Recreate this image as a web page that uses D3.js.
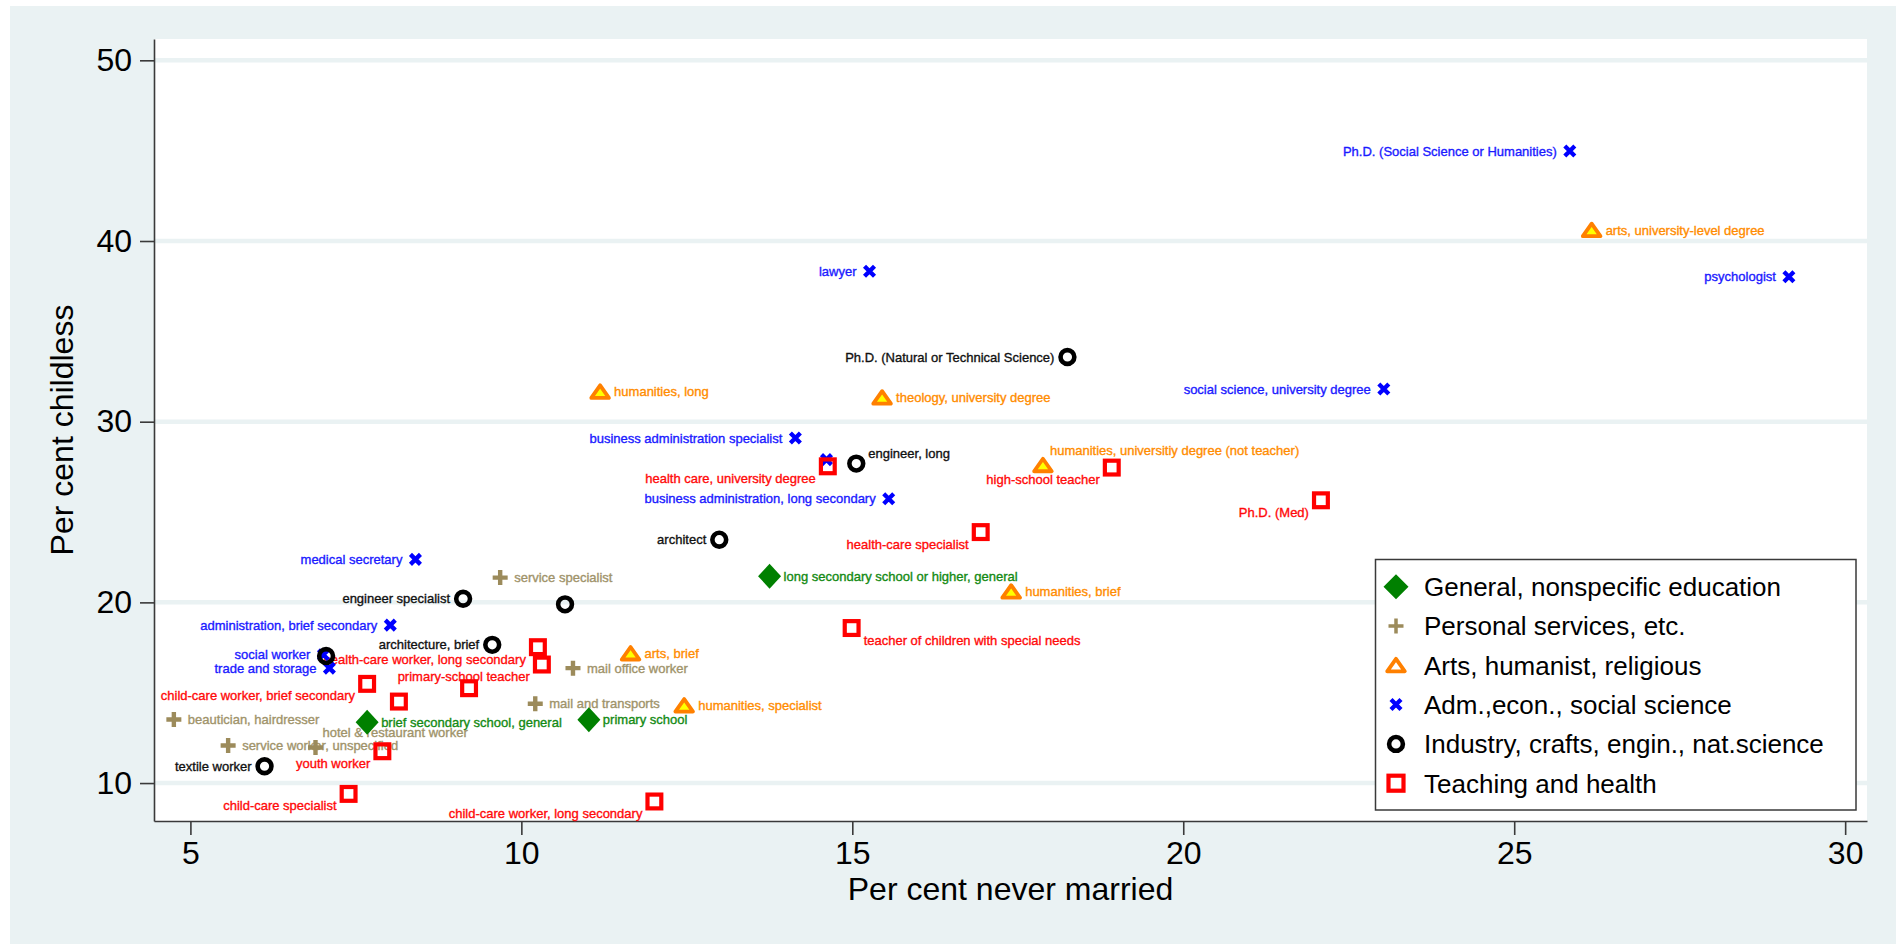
<!DOCTYPE html>
<html>
<head>
<meta charset="utf-8">
<script src="https://cdn.jsdelivr.net/npm/d3@7"></script>
<style>
  html, body { margin: 0; padding: 0; background: #ffffff; }
  svg { display: block; font-family: "Liberation Sans", Arial, sans-serif; }
</style>
</head>
<body>
<svg id="chart" width="1896" height="944"></svg>
<script>
// Occupational groups: [label, % never married, % childless, label position (clock)]
const generalEd = [
  ["long secondary school or higher, general", 13.75, 21.45, 3],
  ["brief secondary school, general", 7.67, 13.37, 3],
  ["primary school", 11.02, 13.50, 3]
];
const personalServices = [
  ["service specialist", 9.68, 21.37, 3],
  ["mail office worker", 10.78, 16.36, 3],
  ["mail and transports", 10.21, 14.39, 3],
  ["beautician, hairdresser", 4.75, 13.52, 3],
  ["hotel & restaurant worker", 6.89, 11.97, 1],
  ["service worker, unspecified", 5.57, 12.08, 3]
];
const artsHumanist = [
  ["humanities, long", 11.19, 31.65, 3],
  ["theology, university degree", 15.45, 31.33, 3],
  ["arts, university-level degree", 26.17, 40.60, 3],
  ["humanities, universitiy degree (not teacher)", 17.88, 27.59, 1],
  ["humanities, brief", 17.40, 20.59, 3],
  ["arts, brief", 11.65, 17.17, 3],
  ["humanities, specialist", 12.46, 14.29, 3]
];
const admEcon = [
  ["Ph.D. (Social Science or Humanities)", 25.84, 44.98, 9],
  ["psychologist", 29.15, 38.02, 9],
  ["lawyer", 15.26, 38.33, 9],
  ["social science, university degree", 23.03, 31.81, 9],
  ["business administration specialist", 14.14, 29.10, 9],
  ["", 14.61, 27.90, 9],
  ["business administration, long secondary", 15.55, 25.74, 9],
  ["medical secretary", 8.40, 22.38, 9],
  ["administration, brief secondary", 8.02, 18.74, 9],
  ["social worker", 7.01, 17.10, 9],
  ["trade and storage", 7.10, 16.36, 9]
];
const industry = [
  ["Ph.D. (Natural or Technical Science)", 18.25, 33.58, 9],
  ["engineer, long", 15.06, 27.68, 2],
  ["architect", 12.99, 23.47, 9],
  ["engineer specialist", 9.12, 20.20, 9],
  ["", 10.66, 19.89, 9],
  ["architecture, brief", 9.56, 17.65, 9],
  ["", 7.05, 17.03, 9],
  ["textile worker", 6.12, 10.93, 9]
];
const teachingHealth = [
  ["health care, university degree", 14.63, 27.53, 8],
  ["high-school teacher", 18.92, 27.46, 8],
  ["Ph.D. (Med)", 22.08, 25.65, 8],
  ["health-care specialist", 16.94, 23.89, 8],
  ["teacher of children with special needs", 14.99, 18.58, 4],
  ["health-care worker, long secondary", 10.25, 17.52, 8],
  ["primary-school teacher", 10.31, 16.56, 8],
  ["", 9.21, 15.25, 8],
  ["child-care worker, brief secondary", 7.67, 15.49, 8],
  ["", 8.15, 14.51, 8],
  ["youth worker", 7.90, 11.76, 8],
  ["child-care specialist", 7.39, 9.40, 8],
  ["child-care worker, long secondary", 12.01, 8.98, 8]
];

const groupNames = [
  "General, nonspecific education",
  "Personal services, etc.",
  "Arts, humanist, religious",
  "Adm.,econ., social science",
  "Industry, crafts, engin., nat.science",
  "Teaching and health"
];
const xTicks = [5, 10, 15, 20, 25, 30];
const yTicks = [10, 20, 30, 40, 50];
const xTitle = "Per cent never married";
const yTitle = "Per cent childless";

// Marker / label style per group
const groups = [
  { data: generalEd,        name: groupNames[0], shape: "diamond",  color: "#008000", text: "#138a13" },
  { data: personalServices, name: groupNames[1], shape: "plus",     color: "#9c8b5b", text: "#a0936a" },
  { data: artsHumanist,     name: groupNames[2], shape: "triangle", color: "#ff8000", text: "#ff8c00" },
  { data: admEcon,          name: groupNames[3], shape: "x",        color: "#0000ff", text: "#1a1aff" },
  { data: industry,         name: groupNames[4], shape: "circle",   color: "#000000", text: "#111111" },
  { data: teachingHealth,   name: groupNames[5], shape: "square",   color: "#ff0000", text: "#ff0a0a" }
];

const svg = d3.select("#chart");
const W = 1896, H = 944;
const plot = { left: 154, right: 1867, top: 39, bottom: 821 };
const bg = "#eaf2f3";

// Outer graph region
svg.append("rect").attr("x", 10).attr("y", 6).attr("width", W - 10).attr("height", H - 6).attr("fill", bg);
// Plot region
svg.append("rect").attr("x", plot.left).attr("y", plot.top)
  .attr("width", plot.right - plot.left).attr("height", plot.bottom - plot.top).attr("fill", "#ffffff");

const x = d3.scaleLinear().domain([4.45, 30.33]).range([plot.left, plot.right]);
const y = d3.scaleLinear().domain([7.9, 51.18]).range([plot.bottom, plot.top]);

// Horizontal grid lines
svg.append("g").selectAll("line").data(yTicks).join("line")
  .attr("x1", plot.left).attr("x2", plot.right)
  .attr("y1", d => y(d)).attr("y2", d => y(d))
  .attr("stroke", bg).attr("stroke-width", 4.5);

// Axes
const axisColor = "#3a3a3a";
const gy = svg.append("g").attr("transform", `translate(${plot.left},0)`)
  .call(d3.axisLeft(y).tickValues(yTicks).tickSize(14).tickSizeOuter(0).tickPadding(8));
const gx = svg.append("g").attr("transform", `translate(0,${plot.bottom})`)
  .call(d3.axisBottom(x).tickValues(xTicks).tickSize(14).tickSizeOuter(0).tickPadding(6));
[gx, gy].forEach(g => {
  g.select(".domain").attr("stroke", axisColor).attr("stroke-width", 1.6);
  g.selectAll(".tick line").attr("stroke", axisColor).attr("stroke-width", 1.6);
  g.selectAll(".tick text").attr("fill", "#000").style("font-size", "32px")
    .style("font-family", '"Liberation Sans", Arial, sans-serif');
});

// Axis titles
svg.append("text").attr("x", (plot.left + plot.right) / 2).attr("y", 900)
  .attr("text-anchor", "middle").style("font-size", "32px").attr("fill", "#000").text(xTitle);
svg.append("text").attr("transform", `translate(73,${(plot.top + plot.bottom) / 2}) rotate(-90)`)
  .attr("text-anchor", "middle").style("font-size", "32px").attr("fill", "#000").text(yTitle);

// Marker shapes
function drawMarker(sel, shape, color, legend) {
  if (shape === "diamond") {
    const a = legend ? 12.5 : 11.5, b = 12.5;
    sel.append("path").attr("d", `M0,${-b}L${a},0L0,${b}L${-a},0Z`).attr("fill", color);
  } else if (shape === "plus") {
    const s = 7.5;
    sel.append("path").attr("d", `M${-s},0H${s}M0,${-s}V${s}`)
      .attr("stroke", color).attr("stroke-width", legend ? 3.5 : 4.4).attr("fill", "none");
  } else if (shape === "triangle") {
    sel.append("path").attr("d", "M0,-6.5L8.8,6L-8.8,6Z")
      .attr("fill", legend ? "#ffffff" : "#ffff00").attr("stroke", color)
      .attr("stroke-width", 3.8).attr("stroke-linejoin", "round");
  } else if (shape === "x") {
    const s = legend ? 5 : 5;
    sel.append("path").attr("d", `M${-s},${-s}L${s},${s}M${-s},${s}L${s},${-s}`)
      .attr("stroke", color).attr("stroke-width", 4.3).attr("fill", "none");
  } else if (shape === "circle") {
    sel.append("circle").attr("r", 6.9).attr("fill", "none")
      .attr("stroke", color).attr("stroke-width", 4.6);
  } else if (shape === "square") {
    const s = legend ? 7.5 : 6.9;
    sel.append("rect").attr("x", -s).attr("y", -s).attr("width", 2 * s).attr("height", 2 * s)
      .attr("fill", "none").attr("stroke", color).attr("stroke-width", 4.2);
  }
}

// Label offsets by clock position
const labelPos = {
  3: { dx: 14, dy: 0, anchor: "start" },
  9: { dx: -13, dy: 0, anchor: "end" },
  8: { dx: -12, dy: 12, anchor: "end" },
  4: { dx: 12, dy: 12, anchor: "start" },
  1: { dx: 7, dy: -15, anchor: "start" },
  2: { dx: 12, dy: -10, anchor: "start" }
};

// Labels first, markers on top
const labelLayer = svg.append("g");
const markerLayer = svg.append("g");

groups.forEach(g => {
  labelLayer.append("g").selectAll("text").data(g.data.filter(d => d[0] !== "")).join("text")
    .attr("x", d => x(d[1]) + labelPos[d[3]].dx)
    .attr("y", d => y(d[2]) + labelPos[d[3]].dy)
    .attr("dy", "0.35em")
    .attr("text-anchor", d => labelPos[d[3]].anchor)
    .style("font-size", "13px")
    .attr("fill", g.text)
    .attr("stroke", g.text)
    .attr("stroke-width", 0.35)
    .text(d => d[0]);
});

groups.forEach(g => {
  markerLayer.append("g").selectAll("g").data(g.data).join("g")
    .attr("transform", d => `translate(${x(d[1])},${y(d[2])})`)
    .each(function () { drawMarker(d3.select(this), g.shape, g.color, false); });
});

// Legend
const legend = svg.append("g");
legend.append("rect").attr("x", 1375.5).attr("y", 559.5).attr("width", 480.5).attr("height", 250.5)
  .attr("fill", "#ffffff").attr("stroke", "#3a3a3a").attr("stroke-width", 1.5);
groups.forEach((g, i) => {
  const cy = 586.7 + i * 39.3;
  const row = legend.append("g");
  drawMarker(row.append("g").attr("transform", `translate(1396,${cy})`), g.shape, g.color, true);
  row.append("text").attr("x", 1424).attr("y", cy).attr("dy", "0.36em")
    .style("font-size", "26px").attr("fill", "#000").text(g.name);
});
</script>
</body>
</html>
